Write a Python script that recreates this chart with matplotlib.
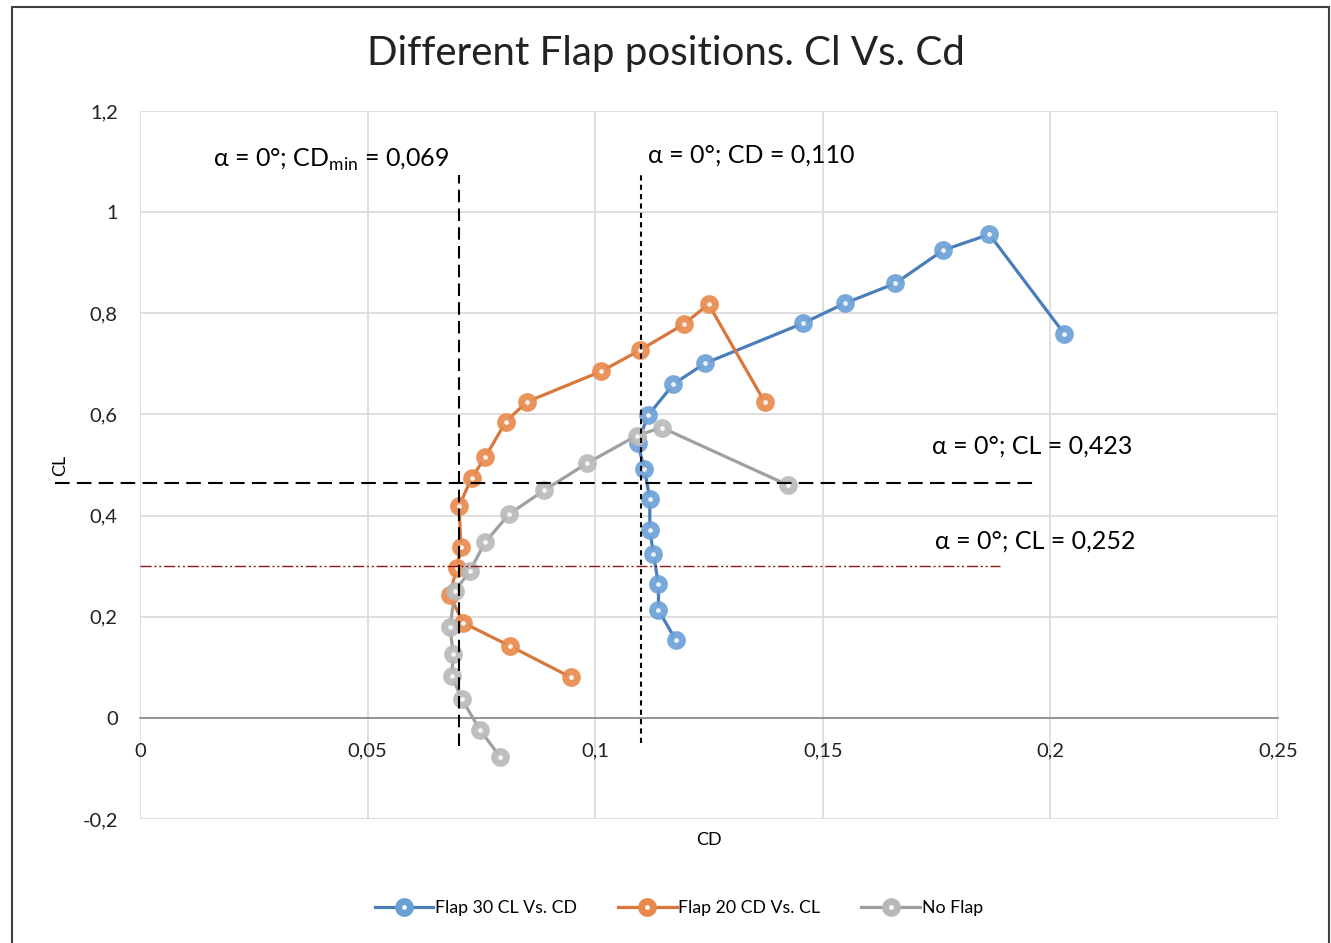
import matplotlib
matplotlib.use("Agg")
import matplotlib.pyplot as plt
from matplotlib.ticker import FuncFormatter, MultipleLocator
from matplotlib.patches import Rectangle

plt.rcParams['font.family'] = ['Lato', 'DejaVu Sans']
plt.rcParams['mathtext.fontset'] = 'custom'
plt.rcParams['mathtext.rm'] = 'Lato'

# Flap 30 (CD, CL)
flap30_cd = [0.1177, 0.1139, 0.1139, 0.1128, 0.1120, 0.1120, 0.1108, 0.1093, 0.1117,
             0.1172, 0.1241, 0.1456, 0.1549, 0.1659, 0.1765, 0.1866, 0.2030]
flap30_cl = [0.154, 0.213, 0.264, 0.324, 0.371, 0.433, 0.493, 0.544, 0.599,
             0.660, 0.701, 0.780, 0.820, 0.859, 0.925, 0.956, 0.760]

# Flap 20
flap20_cd = [0.0947, 0.0813, 0.0710, 0.0680, 0.0696, 0.0705, 0.0701, 0.0729, 0.0758,
             0.0804, 0.0850, 0.1013, 0.1098, 0.1194, 0.1249, 0.1372]
flap20_cl = [0.080, 0.142, 0.188, 0.243, 0.296, 0.337, 0.419, 0.475, 0.515,
             0.586, 0.625, 0.685, 0.727, 0.778, 0.818, 0.625]

# No flap
noflap_cd = [0.0791, 0.0747, 0.0707, 0.0685, 0.0688, 0.0681, 0.0692, 0.0725, 0.0758,
             0.0811, 0.0888, 0.0981, 0.1091, 0.1146, 0.1424]
noflap_cl = [-0.077, -0.024, 0.037, 0.083, 0.127, 0.179, 0.251, 0.291, 0.347,
             0.403, 0.450, 0.503, 0.558, 0.574, 0.460]

labels = ['Flap 30 CL Vs. CD', 'Flap 20 CD Vs. CL', 'No Flap']
colors = ['#4A7EBB', '#D9773A', '#A0A0A0']
ring_colors = ['#6A9FD6', '#E8884A', '#B8B8B8']

# reference lines
cd_min_line = 0.0701
cd_110_line = 0.110
cl_high_line = 0.465
cl_low_line = 0.300

fig = plt.figure(figsize=(13.31, 9.43), dpi=100)
ax = fig.add_axes([140/1331, 1-819/943, (1278-140)/1331, (819-111)/943])

series = [(flap30_cd, flap30_cl), (flap20_cd, flap20_cl), (noflap_cd, noflap_cl)]
for (xs, ys), lab, c, rc in zip(series, labels, colors, ring_colors):
    ax.plot(xs, ys, '-', color=c, lw=2.3, zorder=3)
    ax.plot(xs, ys, 'o', color=rc, markersize=8.5, markerfacecolor='white',
            markeredgecolor=rc, markeredgewidth=5.0, alpha=0.9, zorder=4)
    # legend proxy
    ax.plot([], [], '-o', color=c, lw=2.3, label=lab, markersize=8.5,
            markerfacecolor='white', markeredgecolor=rc, markeredgewidth=5.0)

# vertical reference lines
ax.plot([cd_min_line, cd_min_line], [-0.055, 1.073], color='black', lw=1.5,
        dashes=(6, 3), zorder=5)
ax.plot([cd_110_line, cd_110_line], [-0.05, 1.073], color='black', lw=1.5,
        dashes=(2.5, 2), zorder=5)
# horizontal reference lines
ax.plot([-0.0186, 0.197], [cl_high_line, cl_high_line], color='black', lw=1.5,
        dashes=(7, 3.5), zorder=5, clip_on=False)
ax.plot([0, 0.189], [cl_low_line, cl_low_line], color='#8B1A1A', lw=1.0,
        linestyle=(0, (8, 2, 1.5, 2, 1.5, 2)), zorder=5)

ax.text(0.016, 1.103, 'α = 0°; CD$_{\\mathrm{min}}$ = 0,069', fontsize=18,
        ha='left', va='center')
ax.text(0.1116, 1.113, 'α = 0°; CD = 0,110', fontsize=18, ha='left', va='center')
ax.text(0.174, 0.538, 'α = 0°; CL = 0,423', fontsize=18, ha='left', va='center')
ax.text(0.1747, 0.350, 'α = 0°; CL = 0,252', fontsize=18, ha='left', va='center')

ax.set_xlim(0, 0.25)
ax.set_ylim(-0.2, 1.2)
ax.xaxis.set_major_locator(MultipleLocator(0.05))
ax.yaxis.set_major_locator(MultipleLocator(0.2))
fmt = FuncFormatter(lambda v, p: ('%g' % round(v, 3)).replace('.', ','))
ax.xaxis.set_major_formatter(fmt)
ax.yaxis.set_major_formatter(fmt)
ax.grid(True, color='#D9D9D9', lw=1.2)
ax.set_axisbelow(True)
for s in ['top', 'right', 'left']:
    ax.spines[s].set_visible(False)
ax.spines['bottom'].set_position(('data', 0))
ax.spines['bottom'].set_color('#868686')
ax.spines['bottom'].set_linewidth(1.2)
ax.tick_params(axis='both', length=0, labelsize=14.5, colors='#222222')
ax.tick_params(axis='x', pad=18)
ax.tick_params(axis='y', pad=16)

fig.text(0.5, 1-53/943, 'Different Flap positions. Cl Vs. Cd', fontsize=29,
         fontweight='normal', ha='center', va='center', color='#222222')
fig.text(709/1331, 1-840/943, 'CD', fontsize=13, ha='center', va='center')
fig.text(60/1331, 1-465/943, 'CL', fontsize=13, ha='center', va='center', rotation=90)

ax.legend(loc='center', bbox_to_anchor=(0.51, 1-908/943), bbox_transform=fig.transFigure,
          ncol=3, frameon=False, fontsize=12.8, handlelength=3.3, columnspacing=2.3,
          handletextpad=0.1)

fig.add_artist(Rectangle((12/1331, -0.02), (1329-12)/1331, 1.02 - 7/943,
                         transform=fig.transFigure, fill=False, edgecolor='#404040', lw=1.5))

fig.savefig('out.png', dpi=100)
